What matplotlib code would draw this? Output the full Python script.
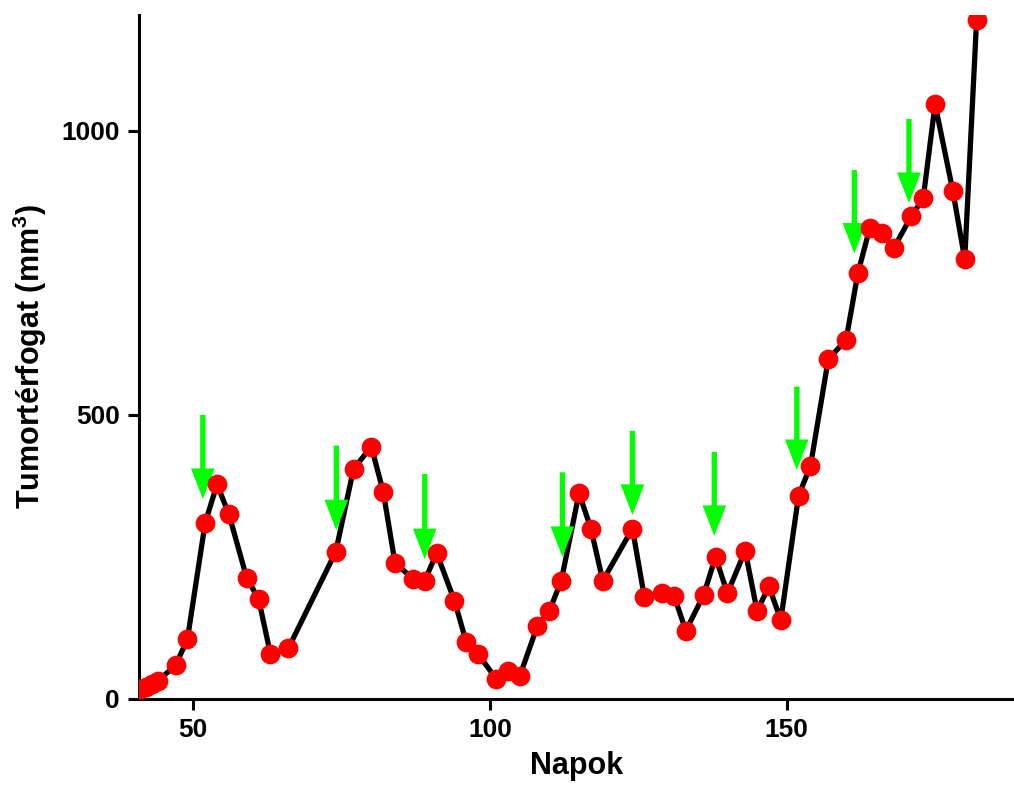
import matplotlib
matplotlib.use('Agg')
import matplotlib.pyplot as plt

# tumour volume over days
days = [41, 42, 43, 44, 47, 49, 52, 54, 56, 59, 61, 63, 66, 74, 77, 80, 82, 84,
        87, 89, 91, 94, 96, 98, 101, 103, 105, 108, 110, 112, 115, 117, 119, 124,
        126, 129, 131, 133, 136, 138, 140, 143, 145, 147, 149, 152, 154, 157,
        160, 162, 164, 166, 168, 171, 173, 175, 178, 180, 182]
volume = [18, 21, 26, 32, 59, 105, 310, 378, 325, 213, 176, 79, 89, 259, 405,
          444, 365, 239, 212, 208, 257, 173, 100, 79, 36, 50, 40, 129, 155, 208,
          362, 300, 208, 300, 180, 187, 182, 120, 183, 250, 186, 261, 155, 198,
          139, 358, 410, 598, 632, 750, 829, 820, 793, 850, 881, 1047, 894, 774,
          1196]

# treatment arrows: x position, tail (top) and tip values
arrow_x = [51.6, 74.1, 89.0, 112.2, 124.0, 137.8, 151.7, 161.4, 170.6]
arrow_top = [500, 446, 396, 399, 472, 435, 550, 931, 1021]
arrow_tip = [352, 297, 246, 250, 324, 287, 403, 784, 873]

plt.rcParams['font.family'] = ['Liberation Sans', 'DejaVu Sans']
plt.rcParams['font.weight'] = 'bold'
plt.rcParams['mathtext.fontset'] = 'custom'
plt.rcParams['mathtext.bf'] = 'Liberation Sans:bold'
plt.rcParams['mathtext.rm'] = 'Liberation Sans:bold'

fig = plt.figure(figsize=(10.14, 7.89), dpi=100)
ax = fig.add_axes([0.1374, 0.1141, 0.8626, 0.8669])

ax.plot(days, volume, color='black', lw=3.8, zorder=2)
for x, top, tip in zip(arrow_x, arrow_top, arrow_tip):
    ax.annotate('', xy=(x, tip), xytext=(x, top),
                arrowprops=dict(arrowstyle='simple,head_length=1.1,head_width=0.85,tail_width=0.19',
                                fc='#00ff00', ec='none', lw=0, mutation_scale=20,
                                shrinkA=0, shrinkB=0),
                zorder=3)
ax.plot(days, volume, 'o', color='#ff0000', ms=13.2, mec='#ff0000', zorder=4)

ax.set_xlim(40.9, 188.3)
ax.set_ylim(0, 1204)
ax.set_xticks([50, 100, 150])
ax.set_yticks([0, 500, 1000])

for s in ['top', 'right']:
    ax.spines[s].set_visible(False)
for s in ['left', 'bottom']:
    ax.spines[s].set_linewidth(2.2)

ax.tick_params(width=2.2, length=8, labelsize=19, pad=6)
for lab in ax.get_xticklabels() + ax.get_yticklabels():
    lab.set_fontweight('bold')

ax.set_xlabel('Napok', fontsize=22, fontweight='bold', labelpad=6)
ax.set_ylabel('Tumortérfogat (mm$^\\mathbf{3}$)', fontsize=22, fontweight='bold', labelpad=9)

fig.savefig('out.png', dpi=100)
